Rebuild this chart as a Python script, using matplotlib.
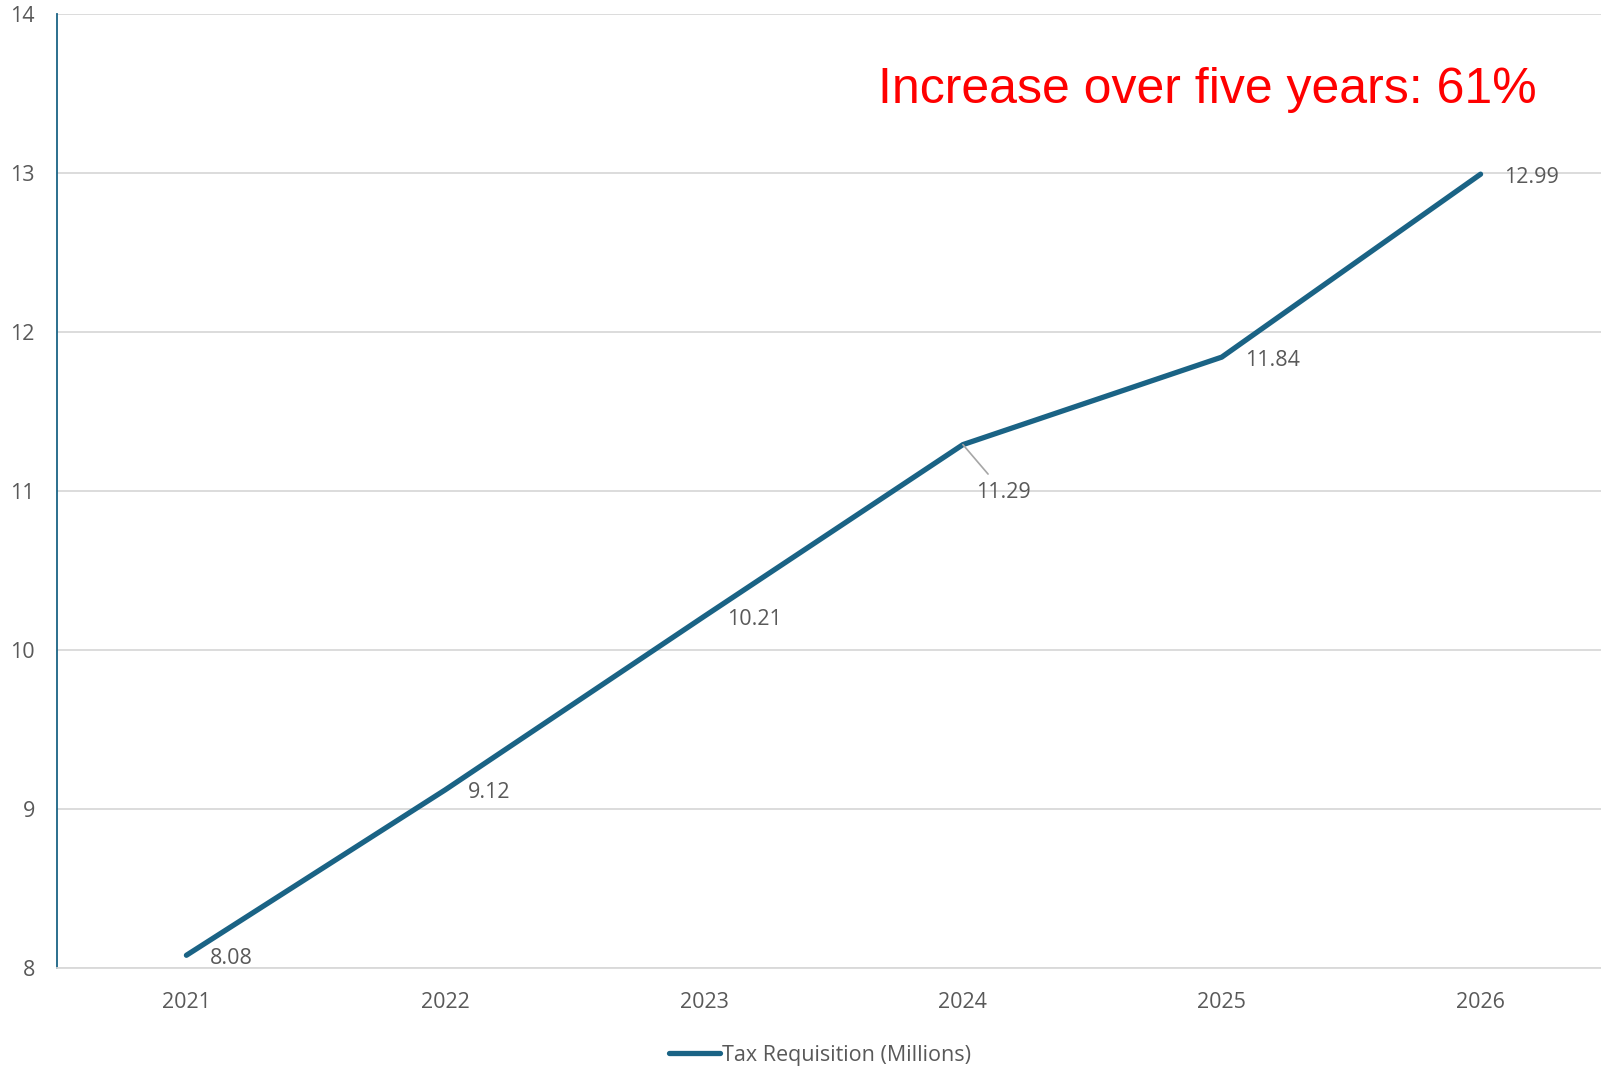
# line chart: tax requisition 2021-2026
import matplotlib
matplotlib.use("Agg")
import matplotlib.pyplot as plt

# data
years = ["2021", "2022", "2023", "2024", "2025", "2026"]
tax_requisition = [8.08, 9.12, 10.21, 11.29, 11.84, 12.99]
series_name = "Tax Requisition (Millions)"
note_text = "Increase over five years: 61%"

line_color = "#1a6385"
text_color = "#595959"
grid_color = "#d9d9d9"

plt.rcParams['font.family'] = ['Open Sans', 'DejaVu Sans']

fig = plt.figure(figsize=(16.01, 10.67), dpi=100)
ax = fig.add_axes([57 / 1601, 99 / 1067, 1553 / 1601, 954.5 / 1067])

xs = list(range(len(years)))
ax.plot(xs, tax_requisition, color=line_color, lw=3.8, solid_capstyle='round',
        solid_joinstyle='round', label=series_name, zorder=3)

# data labels
for i, v in enumerate(tax_requisition):
    if years[i] == "2024":
        ax.annotate(f"{v:.2f}", (i, v), xytext=(41, -48), textcoords='offset pixels',
                    ha='center', va='center', fontsize=15.5, color=text_color,
                    arrowprops=dict(arrowstyle='-', color='#a6a6a6', lw=1.2,
                                    shrinkA=5, shrinkB=0))
    else:
        ax.annotate(f"{v:.2f}", (i, v), xytext=(23, -3), textcoords='offset pixels',
                    ha='left', va='center', fontsize=15.5, color=text_color)

ax.set_xlim(-0.5, 5.5)
ax.set_ylim(8, 14)
ax.set_xticks(xs)
ax.set_xticklabels(years)
ax.set_yticks(range(8, 15))

ax.grid(axis='y', color=grid_color, lw=1.3)
ax.set_axisbelow(True)
for side in ['top', 'right']:
    ax.spines[side].set_visible(False)
ax.spines['left'].set_color(line_color)
ax.spines['left'].set_linewidth(1.3)
ax.spines['bottom'].set_color(grid_color)
ax.spines['bottom'].set_linewidth(1.3)
ax.tick_params(axis='both', length=0, labelsize=15.5, labelcolor=text_color)
ax.tick_params(axis='y', pad=16)
ax.tick_params(axis='x', pad=17)

fig.text(878 / 1601, 1 - 90 / 1067, note_text, color='red', fontsize=36,
         family='Liberation Sans', ha='left', va='center')

leg = fig.legend(loc='center', bbox_to_anchor=(820 / 1601, 1 - 1055 / 1067), frameon=False,
                 fontsize=15.5, handlelength=2.4, handletextpad=0.1, labelcolor=text_color)

fig.savefig("out.png", dpi=100)
